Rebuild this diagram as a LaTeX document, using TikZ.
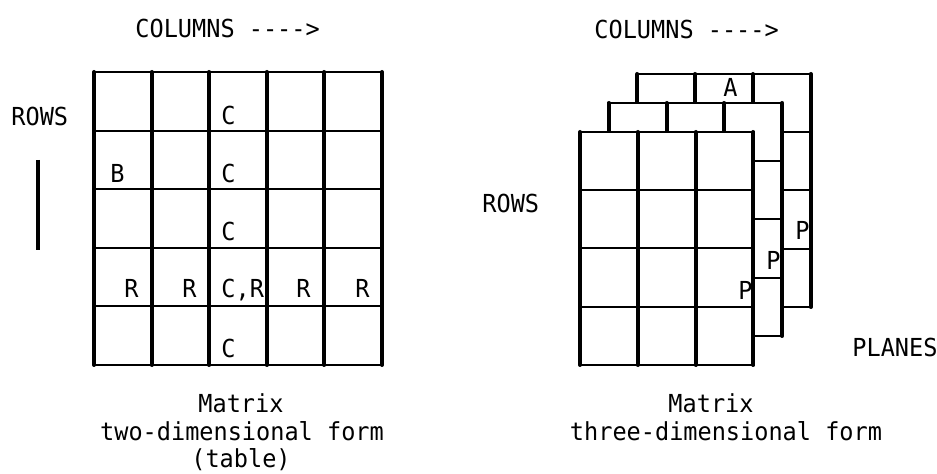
\documentclass[tikz,border=0pt]{standalone}
\usepackage{fontspec}
\setmonofont[FakeStretch=0.95]{DejaVu Sans Mono}
\usepackage{tikz}

\begin{document}
\begin{tikzpicture}[
    x=0.5pt, y=-0.5pt,
    lbl/.style={font=\ttfamily\fontsize{12.4}{14}\selectfont, inner sep=0pt},
    colline/.style={line width=2pt, line cap=round},
    rowline/.style={line width=1pt},
    rowbar/.style={line width=2pt}
]
    \useasboundingbox (0,0) rectangle (937,474);

    % two-dimensional table
    \foreach \i in {0,...,5} \draw[colline] (94+57.6*\i,72) -- (94+57.6*\i,365);
    \foreach \j in {0,...,5} \draw[rowline] (94,72+58.6*\j) -- (382,72+58.6*\j);

    \node[lbl, anchor=base west] (colsL) at (135,38) {COLUMNS ---->};
    \node[lbl, anchor=base west] (rowsL) at (11,126) {ROWS};
    \coordinate (barTop) at (38,160);
    \coordinate (barBot) at (38,250);
    \draw[rowbar] (barTop) -- (barBot);

    \node[lbl, anchor=base west] (c1) at (221,125) {C};
    \node[lbl, anchor=base west] (c2) at (221,183) {C};
    \node[lbl, anchor=base west] (c3) at (221,241) {C};
    \node[lbl, anchor=base west] (c4) at (221,298) {C,R};
    \node[lbl, anchor=base west] (c5) at (221,358) {C};
    \node[lbl, anchor=base west] (b) at (110,183) {B};
    \node[lbl, anchor=base west] (r1) at (124,298) {R};
    \node[lbl, anchor=base west] (r2) at (182,298) {R};
    \node[lbl, anchor=base west] (r4) at (296,298) {R};
    \node[lbl, anchor=base west] (r5) at (355,298) {R};

    \node[lbl, anchor=base] (capL1) at (241,413) {Matrix};
    \node[lbl, anchor=base] (capL2) at (242,441) {two-dimensional form};
    \node[lbl, anchor=base] (capL3) at (241,468) {(table)};

    % three planes, back to front
    \foreach \d in {2,1,0} {
        \begin{scope}[shift={(28.7*\d,-29*\d)}]
            \fill[white] (580,132) rectangle (753.4,365);
            \foreach \i in {0,...,3} \draw[colline] (580+57.8*\i,132) -- (580+57.8*\i,365);
            \foreach \j in {0,...,4} \draw[rowline] (580,132+58.25*\j) -- (753.4,132+58.25*\j);
        \end{scope}
    }

    \node[lbl, anchor=base west] (colsR) at (594,39) {COLUMNS ---->};
    \node[lbl, anchor=base west] (rowsR) at (482,213) {ROWS};
    \node[lbl, anchor=base west] (planes) at (852,357) {PLANES};

    \node[lbl, anchor=base west] (a) at (723,97) {A};
    \node[lbl, anchor=base west] (pBack) at (795,240) {P};
    \node[lbl, anchor=base west] (pMid) at (766,270) {P};
    \node[lbl, anchor=base west] (pFront) at (738,300) {P};

    \node[lbl, anchor=base] (capR1) at (711,413) {Matrix};
    \node[lbl, anchor=base] (capR2) at (726,441) {three-dimensional form};
\end{tikzpicture}
\end{document}
